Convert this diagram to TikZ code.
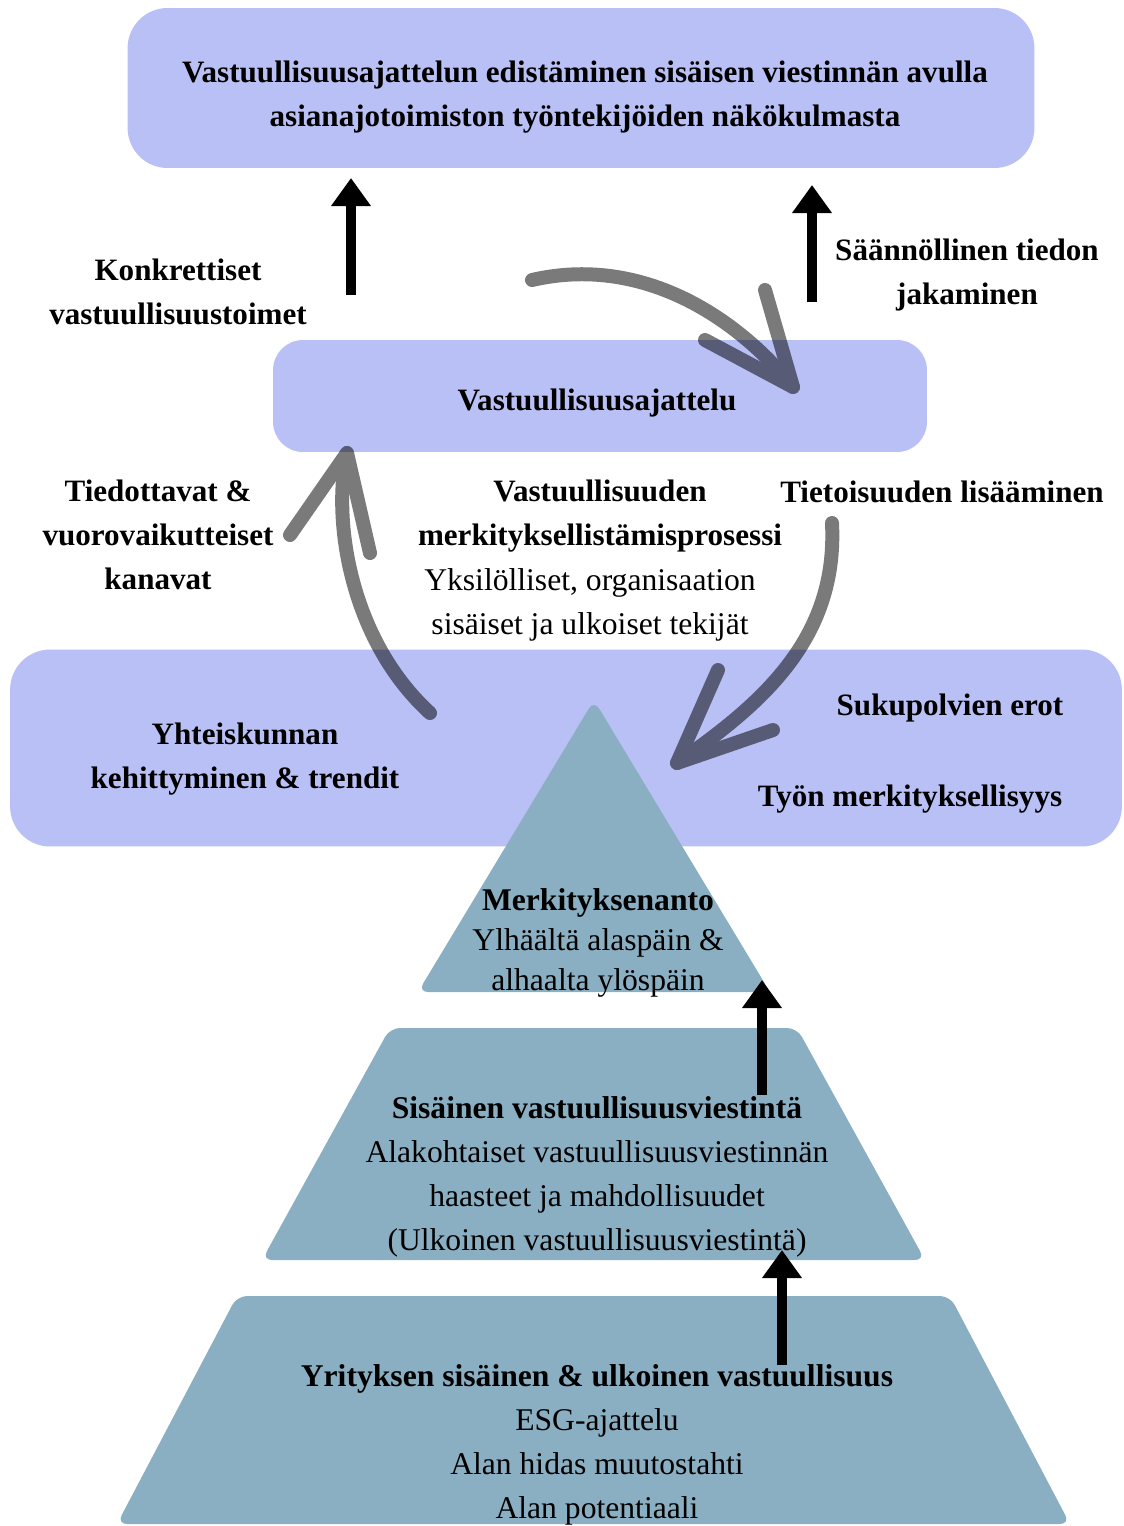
\documentclass[tikz,border=0pt]{standalone}
\usepackage{fontspec}
\setmainfont{Liberation Serif}
\usetikzlibrary{arrows.meta}
\definecolor{boxlav}{HTML}{B9C0F5}
\definecolor{boxteal}{HTML}{8BAFC2}

\begin{document}
\begin{tikzpicture}[x=0.02cm, y=-0.02cm,
  goal/.style={fill=boxlav, rounded corners=0.8cm, font=\fontsize{17.7}{25}\selectfont\bfseries, align=center, inner sep=0},
  band/.style={fill=boxlav, rounded corners=0.8cm, inner sep=0},
  tier/.style={fill=boxteal, rounded corners=0.2cm},
  lbl/.style={font=\fontsize{17.7}{25}\selectfont\bfseries, align=center, inner sep=0},
  txt/.style={font=\fontsize{18}{25}\selectfont, align=center, inner sep=0},
  uparrow/.style={-{Triangle[width=0.76cm,length=0.56cm]}, line width=0.2cm},
  swirl/.style={line width=0.28cm, line cap=round, line join=round}]
\useasboundingbox (0,0) rectangle (1124,1526);
% boxes and band
\node[goal, minimum width=18.14cm, minimum height=3.2cm] (top) at (581,88) {};
\node[lbl] (title) at (585,97) {Vastuullisuusajattelun edistäminen sisäisen viestinnän avulla\\asianajotoimiston työntekijöiden näkökulmasta};
\node[goal, rounded corners=0.6cm, minimum width=13.08cm, minimum height=2.24cm] (mid) at (600,396) {};
\node[lbl] (ajat) at (597,403) {Vastuullisuusajattelu};
\node[band, minimum width=22.24cm, minimum height=3.94cm] (band) at (566,748) {};
% pyramid
\fill[tier] (594,700) -- (770,992) -- (418,992) -- cycle;
\fill[tier] (390,1028) -- (797,1028) -- (925,1260) -- (262,1260) -- cycle;
\fill[tier] (237,1296) -- (950,1296) -- (1070,1524) -- (117,1524) -- cycle;
% labels
\node[lbl] (konk) at (178,292) {Konkrettiset\\vastuullisuustoimet};
\node[lbl] (saan) at (967,275) {Säännöllinen tiedon\\jakaminen};
\node[lbl] (tied) at (158,535) {Tiedottavat \&\\vuorovaikutteiset\\kanavat};
\node[lbl] (proc) at (600,516) {Vastuullisuuden\\merkityksellistämisprosessi};
\node[txt] (tekij) at (590,605) {Yksilölliset, organisaation\\sisäiset ja ulkoiset tekijät};
\node[lbl] (tiet) at (942,492) {Tietoisuuden lisääminen};
\node[lbl] (yht) at (245,759) {Yhteiskunnan\\kehittyminen \& trendit};
\node[lbl] (suku) at (950,708) {Sukupolvien erot};
\node[lbl] (tyon) at (910,799) {Työn merkityksellisyys};
\node[txt, font=\fontsize{18}{23}\selectfont] (merk) at (598,943) {\textbf{Merkityksenanto}\\Ylhäältä alaspäin \&\\alhaalta ylöspäin};
\node[txt] (sis) at (597,1177) {\textbf{Sisäinen vastuullisuusviestintä}\\Alakohtaiset vastuullisuusviestinnän\\haasteet ja mahdollisuudet\\(Ulkoinen vastuullisuusviestintä)};
\node[txt] (yrit) at (597,1445) {\textbf{Yrityksen sisäinen \& ulkoinen vastuullisuus}\\ESG-ajattelu\\Alan hidas muutostahti\\Alan potentiaali};
% black arrows
\coordinate (k1) at (351,295); \coordinate (k1t) at (351,178);
\coordinate (k2) at (812,302); \coordinate (k2t) at (812,185);
\coordinate (k3) at (762,1095); \coordinate (k3t) at (762,980);
\coordinate (k4) at (782,1365); \coordinate (k4t) at (782,1250);
\foreach \a/\b in {k1/k1t,k2/k2t,k3/k3t,k4/k4t} \draw[uparrow] (\a) -- (\b);
% grey cycle arrows
\coordinate (s1) at (532,280); \coordinate (e1) at (793,387);
\coordinate (s2) at (430,713); \coordinate (e2) at (347,453);
\coordinate (s3) at (832,523); \coordinate (e3) at (677,763);
\begin{scope}[transparency group, opacity=0.52]
\draw[swirl] (s1) .. controls (640,255) and (735,315) .. (e1);
\draw[swirl] (765,290) -- (e1) -- (705,340);
\draw[swirl] (s2) .. controls (350,640) and (332,520) .. (e2);
\draw[swirl] (290,535) -- (e2) -- (370,553);
\draw[swirl] (s3) .. controls (838,640) and (760,705) .. (e3);
\draw[swirl] (718,670) -- (e3) -- (773,730);
\end{scope}
\end{tikzpicture}
\end{document}
